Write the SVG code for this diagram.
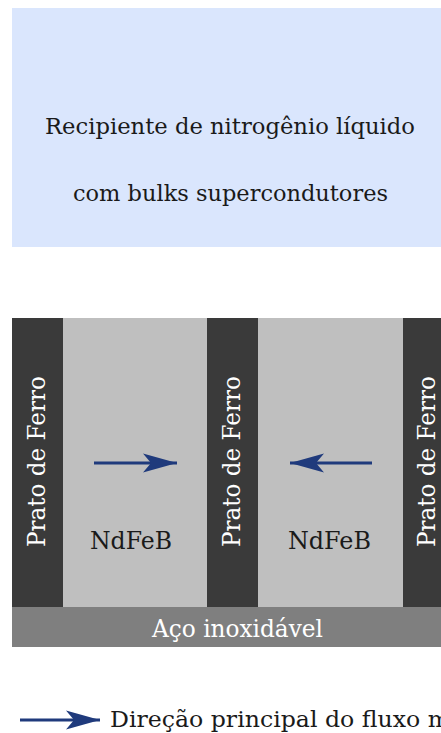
<svg xmlns="http://www.w3.org/2000/svg" width="441" height="733" viewBox="0 0 441 733">
  <style>
    .t { font-family: "DejaVu Serif", "Liberation Serif", serif; font-size: 22px; }
    .big { font-size: 25px; }
    .dark { fill: #3a3a3a; }
    .magnet { fill: #bfbfbf; }
    .white { fill: #ffffff; }
    .black { fill: #1a1a1a; }
    .flux { stroke: #1f3a7c; stroke-width: 3; fill: none; }
  </style>
  <defs>
    <marker id="stealth" markerUnits="userSpaceOnUse" markerWidth="36" markerHeight="22" refX="34" refY="10" orient="auto" viewBox="0 0 36 22">
      <path d="M34,10 L0,0.5 L8,10 L0,19.5 Z" fill="#1f3a7c"/>
    </marker>
  </defs>

  <!-- cryostat -->
  <g id="cryostat">
    <rect x="12" y="8" width="429" height="239" fill="#dae6fd"/>
    <text class="t black" x="45" y="134" textLength="370" lengthAdjust="spacingAndGlyphs">Recipiente de nitrogênio líquido</text>
    <text class="t black" x="73" y="201" textLength="315" lengthAdjust="spacingAndGlyphs">com bulks supercondutores</text>
  </g>

  <!-- stainless base -->
  <g id="base">
    <rect x="12" y="607" width="429" height="40" fill="#7f7f7f"/>
    <text class="t big white" x="152" y="637" textLength="171" lengthAdjust="spacingAndGlyphs">Aço inoxidável</text>
  </g>

  <!-- iron plates -->
  <g id="plate1">
    <rect class="dark" x="12" y="318" width="51" height="289"/>
    <text class="t big white" transform="translate(45,547) rotate(-90)" x="0" y="0" textLength="171" lengthAdjust="spacingAndGlyphs">Prato de Ferro</text>
  </g>
  <g id="magnet1">
    <rect class="magnet" x="63" y="318" width="144" height="289"/>
    <text class="t big black" x="90" y="549" textLength="82" lengthAdjust="spacingAndGlyphs">NdFeB</text>
  </g>
  <g id="plate2">
    <rect class="dark" x="207" y="318" width="51" height="289"/>
    <text class="t big white" transform="translate(240,547) rotate(-90)" x="0" y="0" textLength="171" lengthAdjust="spacingAndGlyphs">Prato de Ferro</text>
  </g>
  <g id="magnet2">
    <rect class="magnet" x="258" y="318" width="145" height="289"/>
    <text class="t big black" x="288" y="549" textLength="83" lengthAdjust="spacingAndGlyphs">NdFeB</text>
  </g>
  <g id="plate3">
    <rect class="dark" x="403" y="318" width="38" height="289"/>
    <text class="t big white" transform="translate(435,547) rotate(-90)" x="0" y="0" textLength="171" lengthAdjust="spacingAndGlyphs">Prato de Ferro</text>
  </g>

  <!-- flux directions -->
  <g id="connectors">
    <line class="flux" x1="94" y1="463" x2="177" y2="463" marker-end="url(#stealth)"/>
    <line class="flux" x1="372" y1="463" x2="290" y2="463" marker-end="url(#stealth)"/>
  </g>

  <!-- legend -->
  <g id="legend">
    <line class="flux" x1="20" y1="720" x2="100" y2="720" marker-end="url(#stealth)"/>
    <text class="t black" x="110" y="727" textLength="443" lengthAdjust="spacingAndGlyphs">Direção principal do fluxo magnético</text>
  </g>
</svg>
